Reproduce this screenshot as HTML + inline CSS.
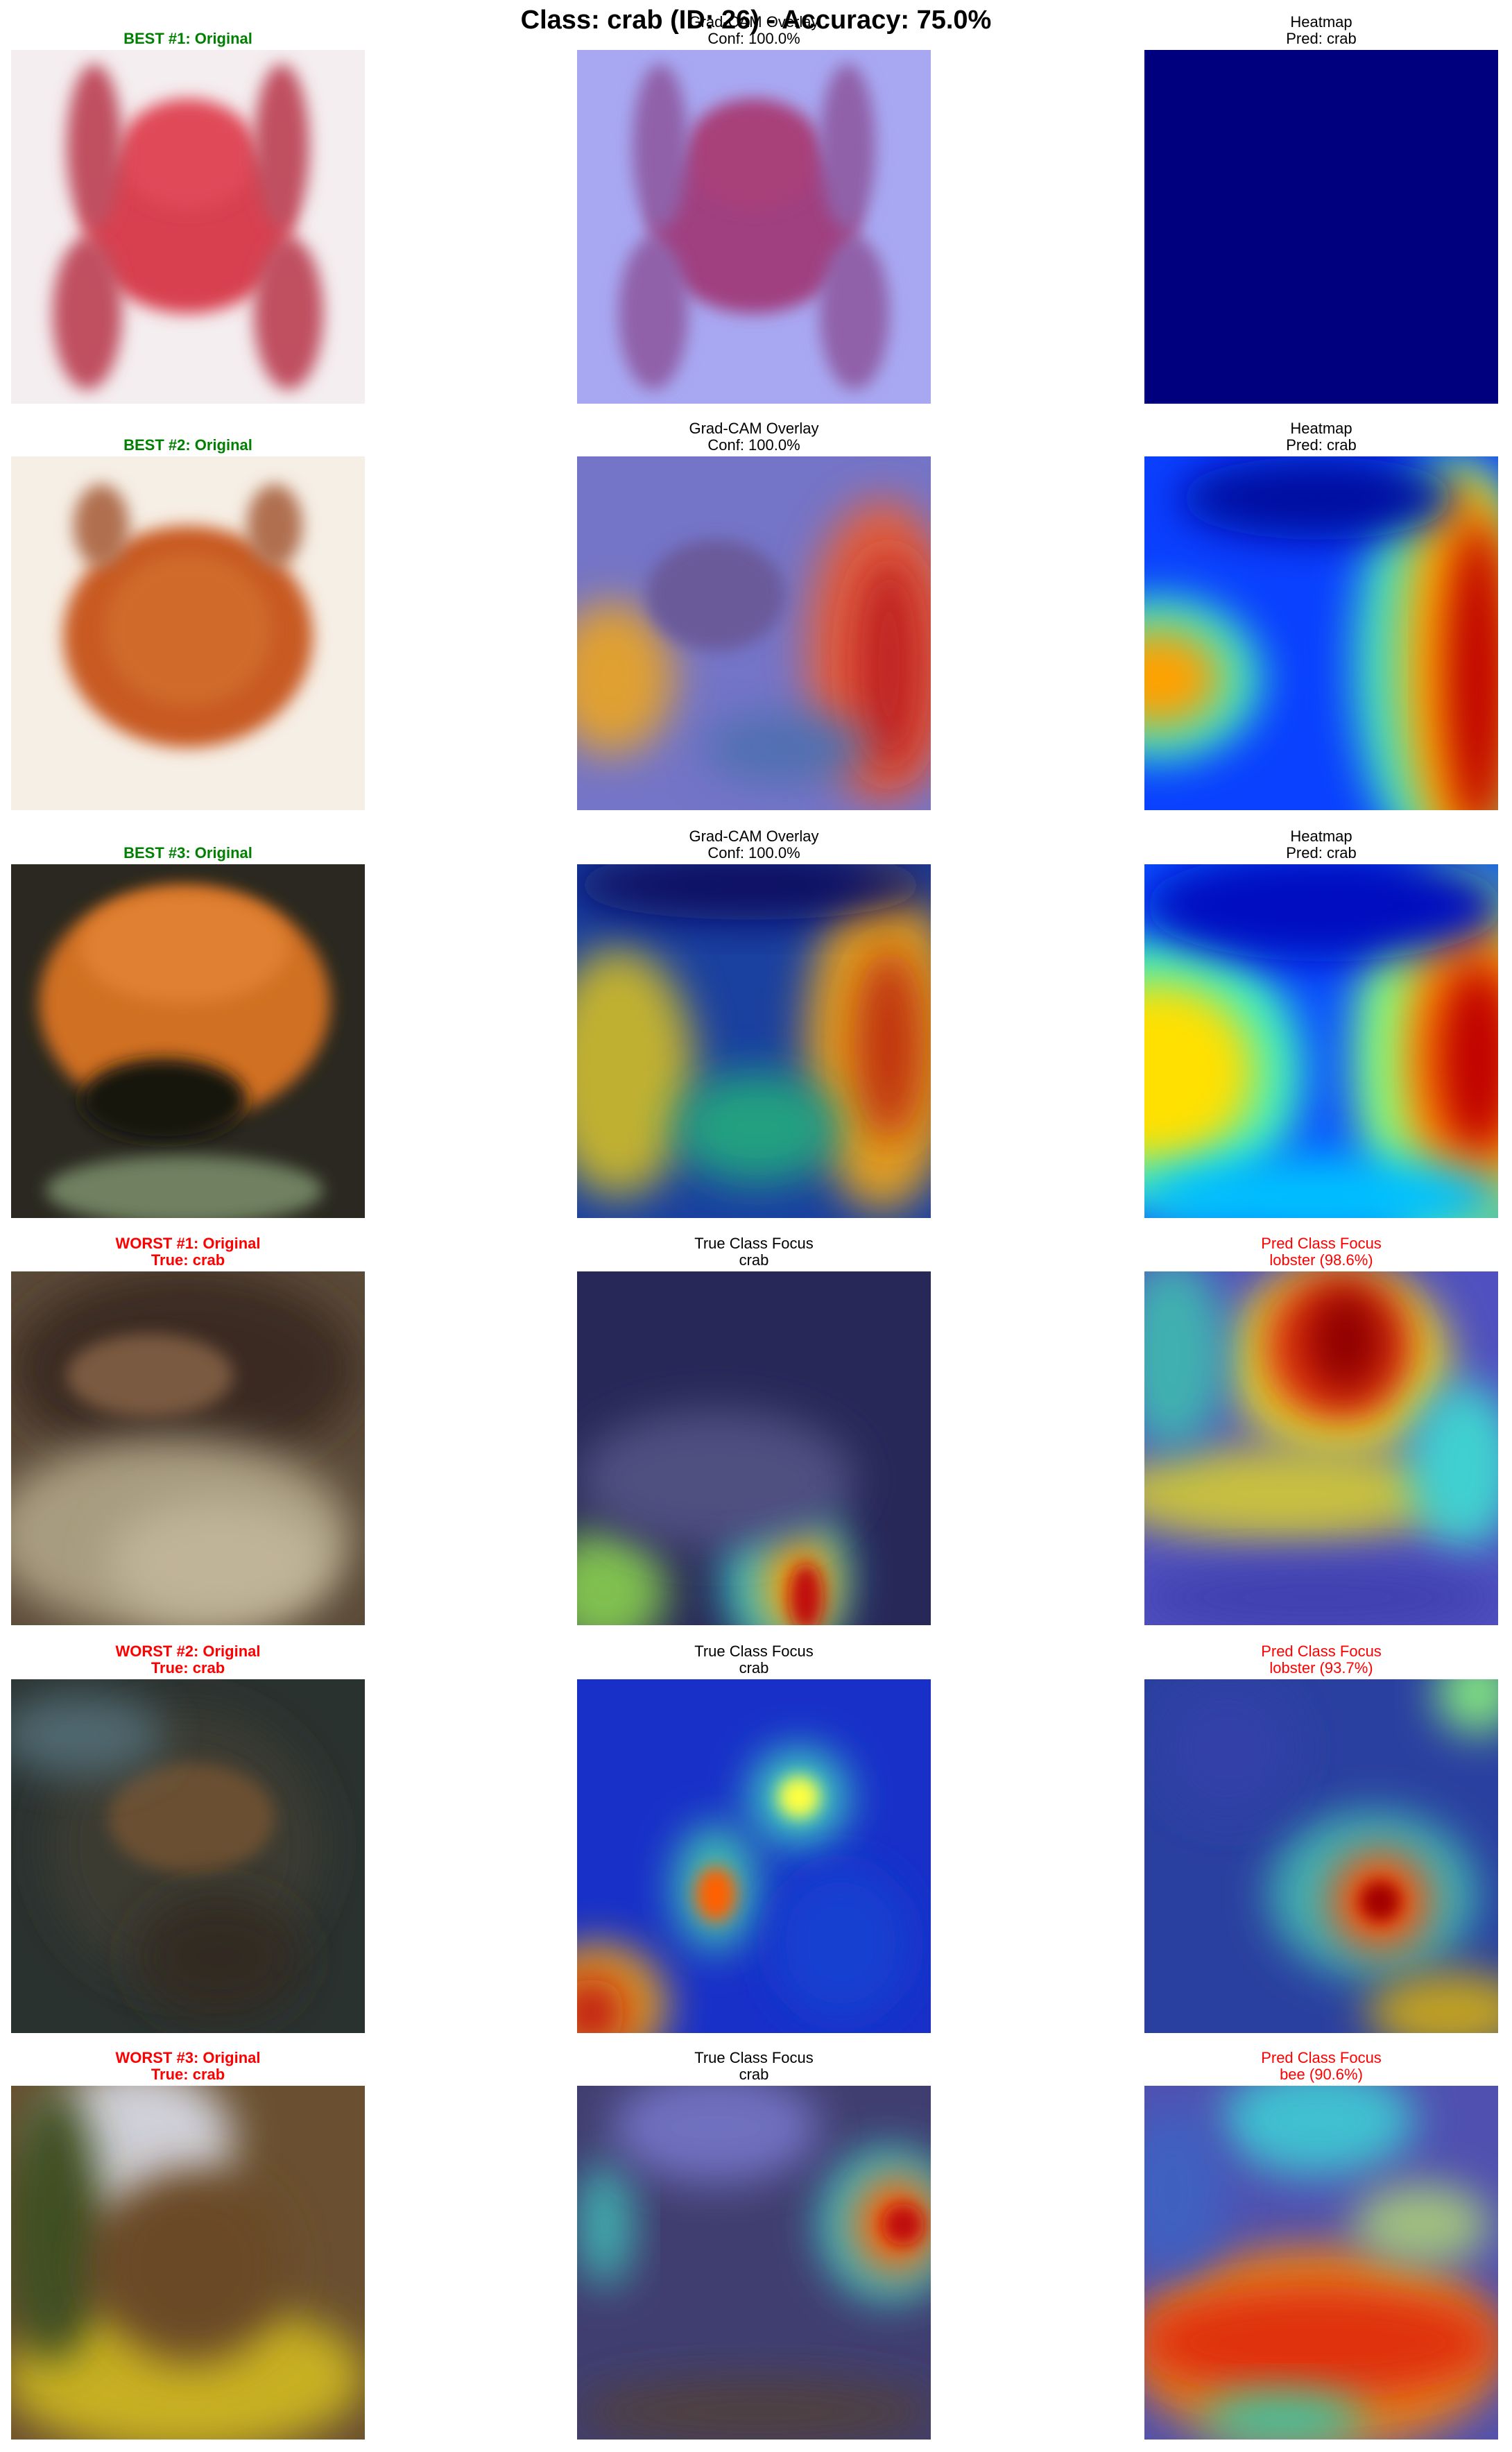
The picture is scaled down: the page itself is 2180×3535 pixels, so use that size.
<!DOCTYPE html>
<html><head><meta charset="utf-8"><style>
body{margin:0;background:#fff;width:2180px;height:3535px;position:relative;font-family:"Liberation Sans","DejaVu Sans",sans-serif;overflow:hidden}
.t{position:absolute;width:510px;text-align:center;font-size:22px;line-height:24px;color:#000}
.g{color:#008000;font-weight:bold}.r{color:#f00;font-weight:bold}.rr{color:#f00}
svg.p{position:absolute;width:510px;height:510px}
</style></head><body>
<div style="position:absolute;left:0;width:2180px;top:8px;text-align:center;font-size:38px;font-weight:bold">Class: crab (ID: 26) - Accuracy: 75.0%</div>
<svg width="0" height="0" style="position:absolute"><defs><filter id="b" x="-50%" y="-50%" width="200%" height="200%"><feGaussianBlur stdDeviation="30"/></filter><filter id="s" x="-50%" y="-50%" width="200%" height="200%"><feGaussianBlur stdDeviation="12"/></filter></defs></svg>
<div id="root"></div>
<script>
const X=[16,832,1650],Y=[72,658,1246,1833,2421,3007];
const titles=[
[['BEST #1: Original','g'],['Grad-CAM Overlay<br>Conf: 100.0%',''],['Heatmap<br>Pred: crab','']],
[['BEST #2: Original','g'],['Grad-CAM Overlay<br>Conf: 100.0%',''],['Heatmap<br>Pred: crab','']],
[['BEST #3: Original','g'],['Grad-CAM Overlay<br>Conf: 100.0%',''],['Heatmap<br>Pred: crab','']],
[['WORST #1: Original<br>True: crab','r'],['True Class Focus<br>crab',''],['Pred Class Focus<br>lobster (98.6%)','rr']],
[['WORST #2: Original<br>True: crab','r'],['True Class Focus<br>crab',''],['Pred Class Focus<br>lobster (93.7%)','rr']],
[['WORST #3: Original<br>True: crab','r'],['True Class Focus<br>crab',''],['Pred Class Focus<br>bee (90.6%)','rr']]];
// panel content: bg color, then ellipses [cx,cy,rx,ry,color,filter]
const P=[
[['#f4eef0',[[255,250,150,130,'#d8404f','s'],[255,150,100,80,'#e04a58','s'],[120,140,40,120,'#c05060','s'],[390,140,40,120,'#c05060','s'],[110,380,50,110,'#c05060','s'],[400,380,50,110,'#c05060','s']]],
 ['#a8a8f2',[[255,250,150,130,'#a04080','s'],[255,150,100,80,'#a8407a','s'],[120,140,40,120,'#9060a8','s'],[390,140,40,120,'#9060a8','s'],[110,380,50,110,'#9060a8','s'],[400,380,50,110,'#9060a8','s']]],
 ['#00007f',[]]],
[['#f6efe6',[[255,260,180,160,'#c85a22','s'],[255,250,120,110,'#cf6a2c','s'],[130,100,40,60,'#b07050','s'],[380,100,40,60,'#b07050','s']]],
 ['#7474c8',[[440,280,110,220,'#e06040','b'],[450,300,50,160,'#c02020','b'],[50,320,90,110,'#e0a030','b'],[200,200,100,80,'#6a5a9a','s'],[300,420,120,50,'#5070b0','b']]],
 ['#0a40ff',[[440,300,140,300,'#40e0c0','b'],[460,300,90,280,'#ffb000','b'],[480,320,50,230,'#c00000','b'],[20,320,150,120,'#40e8c0','b'],[20,320,90,70,'#ffa000','b'],[250,60,200,60,'#0010a0','b']]]],
[['#2a2820',[[250,200,210,170,'#d07020','s'],[250,120,150,80,'#e08030','s'],[220,340,120,60,'#181810','s'],[250,470,200,50,'#708060','s']]],
 ['#1a40a0',[[440,260,110,240,'#e0a020','b'],[450,260,50,140,'#c03010','b'],[60,300,110,180,'#c0b030','b'],[260,380,120,80,'#20a080','b'],[250,30,260,50,'#101060','b']]],
 ['#0a50ff',[[450,280,150,280,'#80ff80','b'],[470,280,100,220,'#ff9000','b'],[480,280,60,140,'#c00000','b'],[30,300,200,200,'#40f0c0','b'],[20,300,140,130,'#ffe000','b'],[260,60,260,80,'#0010c0','b'],[260,480,260,60,'#00c0ff','b']]]],
[['#5a4a38',[[250,140,250,140,'#3a2a20','b'],[230,380,260,140,'#a89c80','b'],[300,420,160,90,'#c0b498','b'],[200,150,120,60,'#7a5a40','s']]],
 ['#282858',[[300,440,90,120,'#40c0c0','b'],[320,450,50,80,'#ffa000','b'],[330,470,25,50,'#c01010','s'],[40,460,90,90,'#80c050','b'],[200,300,200,100,'#505080','b']]],
 ['#5050c0',[[280,130,160,140,'#e0e030','b'],[280,110,110,110,'#e03010','b'],[290,100,60,80,'#900000','b'],[200,320,260,70,'#c8c040','b'],[40,120,80,140,'#40b0b0','b'],[460,280,80,120,'#40d0d0','b'],[250,470,260,50,'#4040b0','b']]]],
[['#2a3230',[[250,240,200,200,'#3a3a30','b'],[260,200,120,80,'#6a5030','s'],[100,80,120,60,'#506870','b'],[300,400,120,90,'#302c24','b']]],
 ['#1830c8',[[320,170,70,70,'#40d0c0','b'],[320,170,30,30,'#ffff40','s'],[200,300,60,90,'#40c0b0','b'],[200,310,30,40,'#ff6000','s'],[30,470,100,90,'#e0a020','b'],[20,480,50,50,'#c01010','b'],[380,380,100,110,'#1840d0','b']]],
 ['#2a40a0',[[330,310,150,120,'#40b0b0','b'],[340,320,70,70,'#ff5000','b'],[340,320,30,30,'#a00000','s'],[440,480,120,60,'#c0a020','b'],[480,20,60,60,'#80e080','b'],[120,100,100,100,'#3040a8','b']]]],
[['#6a5030',[[250,420,260,110,'#c8b020','b'],[180,80,140,110,'#d0d0d8','b'],[60,200,70,200,'#405020','b'],[260,260,140,140,'#6a4a28','b']]],
 ['#403e70',[[450,200,100,110,'#40c0c0','b'],[460,200,60,70,'#ff6000','b'],[470,200,30,30,'#c01010','s'],[40,200,40,90,'#40b0b0','b'],[200,60,150,80,'#7070c0','b'],[260,470,260,50,'#504040','b']]],
 ['#5050b0',[[250,380,270,150,'#e08020','b'],[250,370,260,80,'#e03010','b'],[200,480,120,40,'#40c0a0','b'],[250,50,140,80,'#40c0d0','b'],[400,200,100,60,'#a0c080','b'],[40,150,80,120,'#4060c0','b']]]]];
const root=document.getElementById('root');
const names=['original','overlay','heatmap'];
for(let r=0;r<6;r++)for(let c=0;c<3;c++){
 const t=document.createElement('div');
 t.className='t '+titles[r][c][1];
 const two=titles[r][c][0].includes('<br>');
 t.style.left=X[c]+'px';t.style.top=(Y[r]-(two?52:28))+'px';
 t.innerHTML=titles[r][c][0];
 
 
 root.appendChild(t);
 const ns='http://www.w3.org/2000/svg';
 const s=document.createElementNS(ns,'svg');
 s.setAttribute('class','p');s.setAttribute('viewBox','0 0 510 510');
 s.style.left=X[c]+'px';s.style.top=Y[r]+'px';
 
 
 const [bg,els]=P[r][c];
 let h='<rect width="510" height="510" fill="'+bg+'"/><g>';
 els.forEach(e=>{h+='<ellipse cx="'+e[0]+'" cy="'+e[1]+'" rx="'+e[2]+'" ry="'+e[3]+'" fill="'+e[4]+'" filter="url(#'+e[5]+')"/>';});
 h+='</g>';
 s.innerHTML=h;
 root.appendChild(s);
}
</script>
</body></html>
